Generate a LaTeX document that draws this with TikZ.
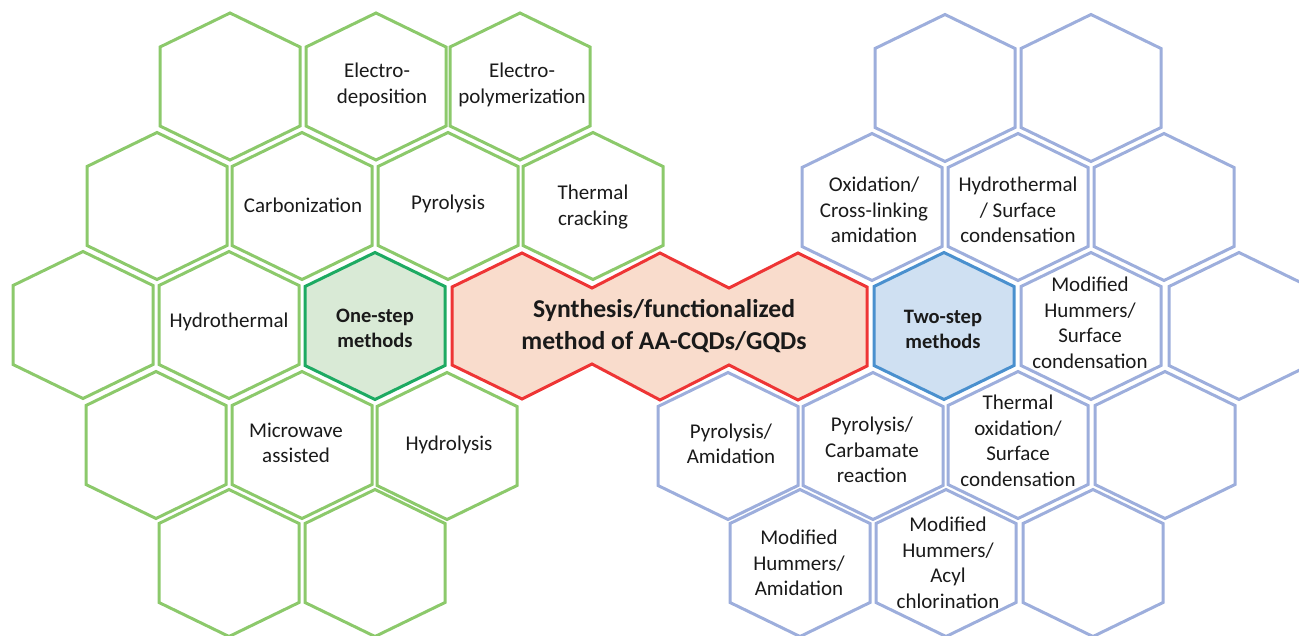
\documentclass[tikz,border=0pt]{standalone}
\usepackage{fontspec}
\setmainfont{Carlito}
\definecolor{gline}{HTML}{8CC96B}
\definecolor{bline}{HTML}{9DAEDC}
\definecolor{ogline}{HTML}{1DAA62}
\definecolor{ogfill}{HTML}{D9EAD6}
\definecolor{tbline}{HTML}{4A90CE}
\definecolor{tbfill}{HTML}{CFE0F2}
\definecolor{redl}{HTML}{EE3535}
\definecolor{redf}{HTML}{F9DCCC}
\definecolor{txt}{HTML}{1A1A1A}
\tikzset{
  hexline/.style={line width=3pt,line join=miter},
  lab/.style={align=center,font=\fontsize{21}{25.5}\selectfont,text=txt,inner sep=0pt},
  blab/.style={align=center,font=\fontsize{20.5}{25}\selectfont\bfseries,text=txt,inner sep=0pt},
  mlab/.style={align=center,font=\fontsize{25.7}{32}\selectfont\bfseries,text=txt,inner sep=0pt},
}
% #1 style, #2 x, #3 y, #4 name
\newcommand{\hexa}[4]{%
  \draw[hexline,#1] (#2-70,#3-39.5) -- (#2,#3-73.5) -- (#2+70,#3-39.5) -- (#2+70,#3+39.5) -- (#2,#3+73.5) -- (#2-70,#3+39.5) -- cycle;
  \coordinate (#4) at (#2,#3);}
\begin{document}
\begin{tikzpicture}[x=1pt,y=-1pt]
\useasboundingbox (0,0) rectangle (1299,635);
% green
\foreach \x/\y/\n in {230/86.5/ga,376/86.5/gb,520/86.5/gc,
 157/206/gd,302/206/ge,448/206/gf,593/206/gg,
 83/325/gh,229/325/gi,
 156/445/gj,302/445/gk,447/446/gl,
 229/563/gm,375/563/gn}
  {\hexa{draw=gline}{\x}{\y}{\n}}
% blue
\foreach \x/\y/\n in {945/88/ba,1091/88/bb,
 872/207/bc,1018/207/bd,1164/207/be,
 1091/326/bf,1239/326/bg,
 728/446/bh,873/446/bi,1018/445/bj,1165/445/bk,
 800/563/bl,946/563/bm,1093/563/bn}
  {\hexa{draw=bline}{\x}{\y}{\n}}
\hexa{draw=ogline,fill=ogfill}{375}{326}{one}
\hexa{draw=tbline,fill=tbfill}{944}{326}{two}
\draw[hexline,draw=redl,fill=redf] (452,287) -- (522,253) -- (592,288) -- (660,253) -- (729,288) -- (798,253) -- (867,287) -- (867,366) -- (798,400) -- (729,365) -- (660,400) -- (592,364) -- (522,399) -- (452,365) -- cycle;
\node[mlab] (main) at (664,326) {Synthesis/functionalized\\method of AA-CQDs/GQDs};
\node[blab] (onel) at (375,328) {One-step\\methods};
\node[blab] (twol) at (943,329) {Two-step\\methods};
\node[lab] at (382,85) {Electro-\kern10pt\\deposition};
\node[lab] at (522,85) {Electro-\\polymerization};
\node[lab] at (303,205) {Carbonization};
\node[lab] at (448,204) {Pyrolysis};
\node[lab] at (593,207) {Thermal\\cracking};
\node[lab] at (229,322) {Hydrothermal};
\node[lab] at (296,443) {Microwave\\assisted};
\node[lab] at (449,445) {Hydrolysis};
\node[lab] at (874,210) {Oxidation/\\Cross-linking\\amidation};
\node[lab] at (1018,210) {Hydrothermal\\/ Surface\\condensation};
\node[lab] at (1090,323) {Modified\\Hummers/\\Surface\\condensation};
\node[lab] at (731,444) {Pyrolysis/\\Amidation};
\node[lab] at (872,450) {Pyrolysis/\\Carbamate\\reaction};
\node[lab] at (1018,441) {Thermal\\oxidation/\\Surface\\condensation};
\node[lab] at (799,563) {Modified\\Hummers/\\Amidation};
\node[lab] at (948,563) {Modified\\Hummers/\\Acyl\\chlorination};
\end{tikzpicture}
\end{document}
